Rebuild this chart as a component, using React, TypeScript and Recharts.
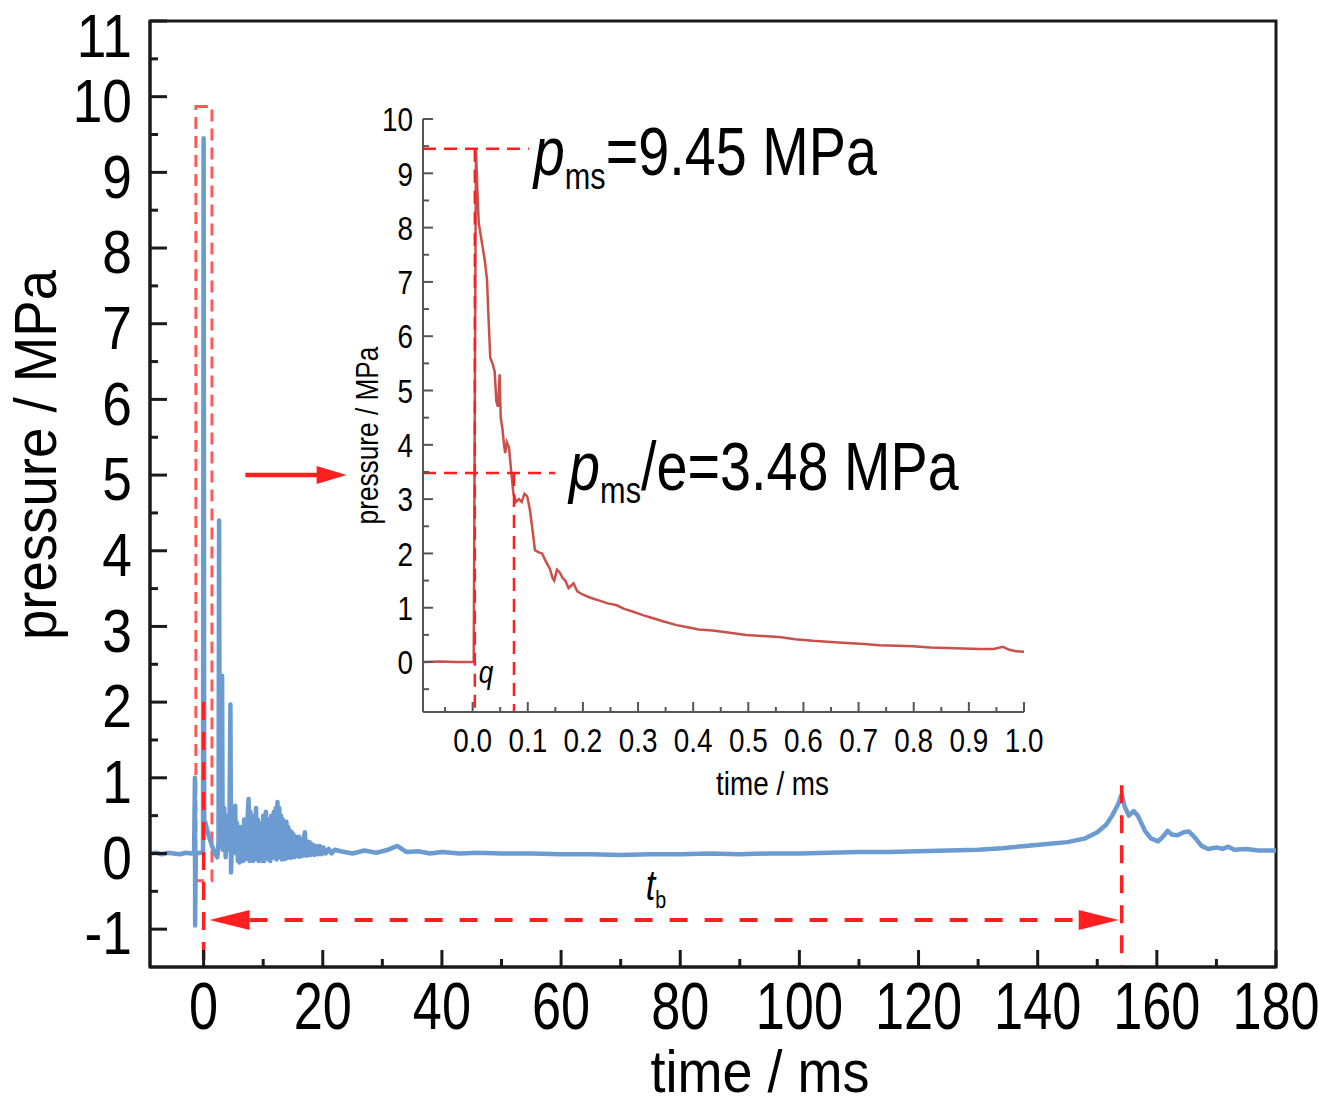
import React from "react";
import {
  LineChart,
  Line,
  XAxis,
  YAxis,
  ReferenceLine,
  ReferenceArea,
  ReferenceDot,
} from "recharts";

const FONT = "'Liberation Sans', Arial, sans-serif";
const SQUEEZE = 0.82; // the figure uses a narrow face
const BLUE = "#6b9bd1";
const RED = "#ff1f1f";
const TRACE_RED = "#c9504b";

// main record: [time / ms, pressure / MPa]
const quietBefore: [number, number][] = [
  [-9, 0.0], [-8, 0.01], [-7, -0.01], [-6, 0.01], [-5, 0.0], [-4, -0.01],
  [-3, 0.01], [-2, 0.0], [-1.6, 0.01],
];

const shockFront: [number, number][] = [
  [-1.46, 1.0], [-1.42, -0.95], [-1.32, 0.0], [-0.6, 0.01], [-0.1, 0.02],
  [0.0, 9.45], [0.1, 0.3], [0.25, 0.42], [0.8, 0.25], [1.4, 0.1], [1.9, 0.0],
  [2.3, -0.05], [2.5, 0.15], [2.6, 4.4], [2.7, 0.1], [2.9, 0.35], [3.1, 2.35],
  [3.2, 0.05], [3.45, 0.6], [3.7, -0.05], [4.0, 0.5], [4.3, 0.05], [4.5, 1.97],
  [4.6, -0.25], [4.85, 0.35], [5.05, 0.05],
];

const reverberation: [number, number][] = [
  [5.3, 0.63], [5.45, 0.0], [5.6, 0.4], [5.75, -0.1], [5.9, 0.3], [6.05, -0.12],
  [6.2, 0.35], [6.35, -0.05], [6.5, 0.25], [6.65, -0.1], [6.8, 0.45], [6.95, -0.08],
  [7.1, 0.4], [7.25, -0.05], [7.4, 0.5], [7.55, 0.72], [7.7, -0.1], [7.85, 0.55],
  [8.0, -0.05], [8.15, 0.45], [8.3, -0.1], [8.45, 0.5], [8.6, -0.06], [8.8, 0.6],
  [8.95, -0.08], [9.1, 0.45], [9.25, -0.1], [9.4, 0.4], [9.55, -0.05], [9.7, 0.35],
  [9.85, -0.1], [10.0, 0.5], [10.15, -0.1], [10.3, 0.4], [10.45, 0.55], [10.6, -0.05],
  [10.75, 0.4], [10.9, -0.08], [11.05, 0.45], [11.2, -0.1], [11.35, 0.5], [11.5, -0.05],
  [11.65, 0.4], [11.8, 0.55], [11.95, -0.06], [12.1, 0.6], [12.25, -0.08], [12.4, 0.68],
  [12.55, 0.05], [12.7, 0.6], [12.85, -0.05], [13.0, 0.5], [13.15, -0.08], [13.3, 0.45],
  [13.45, -0.05], [13.6, 0.38], [13.75, -0.07], [13.9, 0.42], [14.05, -0.06], [14.2, 0.35],
  [14.35, -0.05], [14.5, 0.3], [14.65, -0.06], [14.8, 0.28], [14.95, -0.04], [15.1, 0.25],
  [15.25, -0.05], [15.4, 0.22], [15.55, -0.03], [15.7, 0.2], [15.85, -0.04], [16.0, 0.22],
  [16.2, -0.04], [16.4, 0.18], [16.6, -0.03], [16.8, 0.2], [17.0, 0.28], [17.2, -0.03],
  [17.4, 0.16], [17.6, -0.02], [17.8, 0.15], [18.0, -0.02], [18.3, 0.12], [18.6, -0.02],
  [18.9, 0.1], [19.2, -0.01], [19.5, 0.1], [19.8, -0.01], [20.1, 0.08], [20.5, 0.0],
  [21.0, 0.06], [21.5, 0.0], [22.0, 0.05],
];

const quietAfter: [number, number][] = [
  [23, 0.03], [25, 0.0], [27, 0.04], [29, 0.01], [31, 0.05], [32.5, 0.1], [34, 0.02],
  [36, 0.03], [38, 0.0], [40, 0.02], [43, 0.0], [46, 0.01], [50, 0.0], [55, 0.0],
  [60, -0.01], [65, -0.01], [70, -0.02], [75, -0.01], [80, -0.01], [85, 0.0],
  [90, -0.01], [95, 0.0], [100, 0.0], [105, 0.01], [110, 0.02], [115, 0.02],
  [120, 0.03], [125, 0.04], [130, 0.05], [134, 0.07], [138, 0.1],
];

const reflectedWave: [number, number][] = [
  [142, 0.13], [145, 0.15], [148, 0.2], [150, 0.28], [151.5, 0.38], [152.5, 0.5],
  [153.5, 0.65], [154.1, 0.78], [154.6, 0.62], [155.3, 0.5], [156.1, 0.56],
  [156.8, 0.5], [158, 0.3], [159, 0.2], [160.2, 0.16], [161, 0.22], [161.8, 0.3],
  [162.5, 0.25], [163.5, 0.24], [164.5, 0.28], [165.4, 0.29], [166.5, 0.2],
  [167.5, 0.1], [168.6, 0.06], [170, 0.08], [171, 0.06], [172, 0.09], [173, 0.05],
  [175, 0.06], [177, 0.04], [180, 0.04],
];

// zoomed first millisecond: [time / ms, pressure / MPa]
const insetRecord: [number, number][] = [
  [-0.09, 0.0], [-0.06, 0.01], [-0.03, 0.0], [0.002, 0.0], [0.006, 9.45],
  [0.009, 8.6], [0.011, 8.1], [0.014, 7.9], [0.018, 7.65], [0.022, 7.4],
  [0.026, 7.05], [0.029, 6.3], [0.032, 5.6], [0.036, 5.5], [0.04, 5.35],
  [0.043, 4.8], [0.046, 4.7], [0.049, 5.3], [0.051, 4.5], [0.054, 4.3],
  [0.057, 4.0], [0.059, 3.85], [0.062, 4.05], [0.066, 3.95], [0.07, 3.5],
  [0.074, 3.1], [0.079, 2.95], [0.084, 3.0], [0.089, 2.95], [0.094, 3.1],
  [0.099, 3.05], [0.104, 2.8], [0.109, 2.4], [0.113, 2.06], [0.12, 2.02],
  [0.126, 2.0], [0.133, 1.85], [0.14, 1.72], [0.145, 1.55], [0.148, 1.5],
  [0.153, 1.7], [0.158, 1.65], [0.163, 1.55], [0.168, 1.5], [0.174, 1.36],
  [0.178, 1.4], [0.183, 1.45], [0.19, 1.3], [0.2, 1.24], [0.215, 1.18],
  [0.23, 1.13], [0.245, 1.08], [0.26, 1.05], [0.275, 0.98], [0.29, 0.93],
  [0.31, 0.86], [0.326, 0.81], [0.345, 0.75], [0.37, 0.68], [0.39, 0.64],
  [0.41, 0.6], [0.435, 0.58], [0.46, 0.55], [0.496, 0.5], [0.525, 0.48],
  [0.556, 0.46], [0.585, 0.42], [0.617, 0.39], [0.65, 0.37], [0.678, 0.35],
  [0.71, 0.33], [0.738, 0.31], [0.77, 0.3], [0.798, 0.29], [0.83, 0.27],
  [0.86, 0.26], [0.89, 0.25], [0.92, 0.24], [0.945, 0.24], [0.962, 0.28],
  [0.972, 0.23], [0.985, 0.2], [1.0, 0.19],
];

const mainXMajor = [0, 20, 40, 60, 80, 100, 120, 140, 160, 180];
const mainXMinor = [10, 30, 50, 70, 90, 110, 130, 150, 170];
const mainYMajor = [-1, 0, 1, 2, 3, 4, 5, 6, 7, 8, 9, 10, 11];
const mainYMinor = [-0.5, 0.5, 1.5, 2.5, 3.5, 4.5, 5.5, 6.5, 7.5, 8.5, 9.5, 10.5];

const insetXMajor = [0.0, 0.1, 0.2, 0.3, 0.4, 0.5, 0.6, 0.7, 0.8, 0.9, 1.0];
const insetXMinor = [-0.05, 0.05, 0.15, 0.25, 0.35, 0.45, 0.55, 0.65, 0.75, 0.85, 0.95];
const insetYMajor = [0, 1, 2, 3, 4, 5, 6, 7, 8, 9, 10];
const insetYMinor = [-0.5, 0.5, 1.5, 2.5, 3.5, 4.5, 5.5, 6.5, 7.5, 8.5, 9.5];

const peakPressure = 9.45;
const decayPressure = 3.48;
const decayTime = 0.075;
const arrivalTime = 0;
const reflectionTime = 154.1;

const toRows = (pts: [number, number][]) => pts.map(([t, p]) => ({ t, p }));
const mainData = toRows([
  ...quietBefore,
  ...shockFront,
  ...reverberation,
  ...quietAfter,
  ...reflectedWave,
]);
const insetData = toRows(insetRecord);
const merge = (a: number[], b: number[]) => [...a, ...b].sort((m, n) => m - n);

// text squeezed horizontally around its anchor point
const Narrow = ({ x, y, size, anchor = "start", rotate = 0, italic = false, squeeze = SQUEEZE, children }: any) => (
  <g transform={`translate(${x},${y}) rotate(${rotate}) scale(${squeeze},1)`}>
    <text x={0} y={0} textAnchor={anchor} fontSize={size} fontFamily={FONT}
      fontStyle={italic ? "italic" : "normal"} fill="#000">
      {children}
    </text>
  </g>
);

type TickOpts = {
  side: "left" | "bottom";
  majors: number[];
  majorLen: number;
  minorLen: number;
  stroke: string;
  width: number;
  fontSize: number;
  squeeze: number;
  gap: number;
  shift?: number;
  format: (v: number) => string;
};

// inward ticks, long for labelled values and short for the rest
const makeTick = (o: TickOpts) => (props: any) => {
  const { x, y, payload } = props;
  const v = payload.value;
  const major = o.majors.includes(v);
  const len = major ? o.majorLen : o.minorLen;
  if (o.side === "left") {
    // keep the top label inside the page
    const base = Math.max(y + o.fontSize * 0.36 + (o.shift || 0), o.fontSize * 0.92);
    return (
      <g>
        <line x1={x} x2={x + len} y1={y} y2={y} stroke={o.stroke} strokeWidth={o.width} />
        {major && (
          <Narrow x={x - o.gap} y={base} size={o.fontSize} anchor="end" squeeze={o.squeeze}>
            {o.format(v)}
          </Narrow>
        )}
      </g>
    );
  }
  return (
    <g>
      <line x1={x} x2={x} y1={y} y2={y - len} stroke={o.stroke} strokeWidth={o.width} />
      {major && (
        <Narrow x={x} y={y + o.gap + o.fontSize * 0.72} size={o.fontSize} anchor="middle"
          squeeze={o.squeeze}>
          {o.format(v)}
        </Narrow>
      )}
    </g>
  );
};

const PmsText = ({ cx, cy, rest, size }: any) => (
  <Narrow x={cx} y={cy} size={size}>
    <tspan fontStyle="italic">p</tspan>
    <tspan fontSize={size * 0.55} dy={size * 0.2}>ms</tspan>
    <tspan dy={-size * 0.2}>{rest}</tspan>
  </Narrow>
);

const SolidArrow = (p: any) => {
  const head = 30;
  return (
    <g>
      <line x1={p.x1} y1={p.y1} x2={p.x2 - head + 2} y2={p.y2} stroke={RED} strokeWidth={4.5} />
      <polygon
        points={`${p.x2},${p.y2} ${p.x2 - head},${p.y2 - 9} ${p.x2 - head},${p.y2 + 9}`}
        fill={RED}
      />
    </g>
  );
};

const DoubleArrow = (p: any) => {
  const head = 40;
  const a = p.x1 + 6;
  const b = p.x2 - 3;
  return (
    <g>
      <line x1={a + head} y1={p.y1} x2={b - head} y2={p.y2} stroke={RED} strokeWidth={4}
        strokeDasharray="18 17" />
      <polygon points={`${a},${p.y1} ${a + head},${p.y1 - 10} ${a + head},${p.y1 + 10}`} fill={RED} />
      <polygon points={`${b},${p.y2} ${b - head},${p.y2 - 10} ${b - head},${p.y2 + 10}`} fill={RED} />
    </g>
  );
};

const MainChart = () => (
  <LineChart width={1319} height={1105} data={mainData}
    margin={{ top: 21, right: 43, bottom: 0, left: 0 }}>
    <XAxis type="number" dataKey="t" domain={[-9, 180]} allowDataOverflow height={138}
      ticks={merge(mainXMajor, mainXMinor)} interval={0} tickSize={0} tickMargin={0}
      tickLine={false} axisLine={{ stroke: "#1a1a1a", strokeWidth: 3 }}
      tick={makeTick({ side: "bottom", majors: mainXMajor, majorLen: 17, minorLen: 8,
        stroke: "#1a1a1a", width: 3, fontSize: 67, squeeze: 0.78, gap: 14,
        format: (v) => String(v) })}
      label={{
        content: (p: any) => (
          <Narrow x={p.viewBox.x + p.viewBox.width / 2 + 47} y={p.viewBox.y + 125}
            size={60} squeeze={0.9} anchor="middle">
            time / ms
          </Narrow>
        ),
      }}
    />
    <YAxis type="number" domain={[-1.5, 11]} allowDataOverflow width={150}
      ticks={merge(mainYMajor, mainYMinor)} interval={0} tickSize={0} tickMargin={0}
      tickLine={false} axisLine={{ stroke: "#1a1a1a", strokeWidth: 3 }}
      tick={makeTick({ side: "left", majors: mainYMajor, majorLen: 17, minorLen: 8,
        stroke: "#1a1a1a", width: 3, fontSize: 62, squeeze: 0.86, gap: 18, shift: 3,
        format: (v) => String(v) })}
      label={{
        content: (p: any) => (
          <Narrow x={p.viewBox.x + p.viewBox.width - 94}
            y={p.viewBox.y + p.viewBox.height / 2 - 39} size={60} squeeze={0.91}
            anchor="middle" rotate={-90}>
            pressure / MPa
          </Narrow>
        ),
      }}
    />
    <ReferenceArea x1={-9} x2={180} y1={-1.5} y2={11} fill="none" stroke="#1a1a1a"
      strokeWidth={3} />
    <Line type="linear" dataKey="p" stroke={BLUE} strokeWidth={4.5} dot={false}
      strokeLinejoin="round" isAnimationActive={false} />
    <ReferenceArea x1={-1.3} x2={1.4} y1={-0.36} y2={9.87} fill="none" stroke="#ff5a5a"
      strokeWidth={3} strokeDasharray="12 7" />
    <ReferenceLine segment={[{ x: arrivalTime, y: 2.0 }, { x: arrivalTime, y: -1.5 }]}
      stroke={RED} strokeWidth={3.5} strokeDasharray="18 12" />
    <ReferenceLine segment={[{ x: reflectionTime, y: 0.9 }, { x: reflectionTime, y: -1.5 }]}
      stroke={RED} strokeWidth={3.5} strokeDasharray="18 12" />
    <ReferenceLine segment={[{ x: arrivalTime, y: -0.88 }, { x: reflectionTime, y: -0.88 }]}
      shape={DoubleArrow} />
    <ReferenceLine segment={[{ x: 7, y: 5 }, { x: 24, y: 5 }]} shape={SolidArrow} />
    <ReferenceDot x={74.2} y={-0.61} shape={(p: any) => (
      <Narrow x={p.cx} y={p.cy} size={42}>
        <tspan fontStyle="italic">t</tspan>
        <tspan fontSize={24} dy={8}>b</tspan>
      </Narrow>
    )} />
  </LineChart>
);

const InsetChart = () => (
  <LineChart width={760} height={720} data={insetData}
    margin={{ top: 19, right: 36, bottom: 0, left: 0 }}>
    <XAxis type="number" dataKey="t" domain={[-0.09, 1.0]} allowDataOverflow height={108}
      ticks={merge(insetXMajor, insetXMinor)} interval={0} tickSize={0} tickMargin={0}
      tickLine={false} axisLine={{ stroke: "#555", strokeWidth: 2 }}
      tick={makeTick({ side: "bottom", majors: insetXMajor, majorLen: 10, minorLen: 5,
        stroke: "#555", width: 2, fontSize: 34, squeeze: SQUEEZE, gap: 16,
        format: (v) => v.toFixed(1) })}
      label={{
        content: (p: any) => (
          <Narrow x={p.viewBox.x + p.viewBox.width / 2 + 49} y={p.viewBox.y + 83}
            size={34} anchor="middle">
            time / ms
          </Narrow>
        ),
      }}
    />
    <YAxis type="number" domain={[-0.92, 10]} allowDataOverflow width={123}
      ticks={merge(insetYMajor, insetYMinor)} interval={0} tickSize={0} tickMargin={0}
      tickLine={false} axisLine={{ stroke: "#555", strokeWidth: 2 }}
      tick={makeTick({ side: "left", majors: insetYMajor, majorLen: 10, minorLen: 6,
        stroke: "#555", width: 2, fontSize: 34, squeeze: SQUEEZE, gap: 10,
        format: (v) => String(v) })}
      label={{
        content: (p: any) => (
          <Narrow x={p.viewBox.x + p.viewBox.width - 45}
            y={p.viewBox.y + p.viewBox.height / 2 + 20} size={32} anchor="middle" rotate={-90}>
            pressure / MPa
          </Narrow>
        ),
      }}
    />
    <Line type="linear" dataKey="p" stroke={TRACE_RED} strokeWidth={2.5} dot={false}
      isAnimationActive={false} />
    <ReferenceLine segment={[{ x: -0.09, y: peakPressure }, { x: 0.102, y: peakPressure }]}
      stroke={RED} strokeWidth={2.5} strokeDasharray="13 8" />
    <ReferenceLine segment={[{ x: -0.09, y: decayPressure }, { x: 0.15, y: decayPressure }]}
      stroke={RED} strokeWidth={2.5} strokeDasharray="13 8" />
    <ReferenceLine segment={[{ x: 0.004, y: peakPressure }, { x: 0.004, y: -0.92 }]}
      stroke={RED} strokeWidth={2.5} strokeDasharray="13 8" />
    <ReferenceLine segment={[{ x: decayTime, y: decayPressure }, { x: decayTime, y: -0.92 }]}
      stroke={RED} strokeWidth={2.5} strokeDasharray="13 8" />
    <ReferenceDot x={0.111} y={8.97} shape={(p: any) => (
      <PmsText cx={p.cx} cy={p.cy} size={68} rest={`=${peakPressure} MPa`} />
    )} />
    <ReferenceDot x={0.175} y={3.17} shape={(p: any) => (
      <PmsText cx={p.cx} cy={p.cy} size={68} rest={`/e=${decayPressure} MPa`} />
    )} />
    <ReferenceDot x={0.011} y={-0.39} shape={(p: any) => (
      <Narrow x={p.cx} y={p.cy} size={32} italic>q</Narrow>
    )} />
  </LineChart>
);

export default function App() {
  return (
    <div style={{ position: "absolute", left: 0, top: 0, width: 1319, height: 1105,
      background: "#fff", fontFamily: FONT }}>
      <MainChart />
      <div style={{ position: "absolute", left: 300, top: 100 }}>
        <InsetChart />
      </div>
    </div>
  );
}
